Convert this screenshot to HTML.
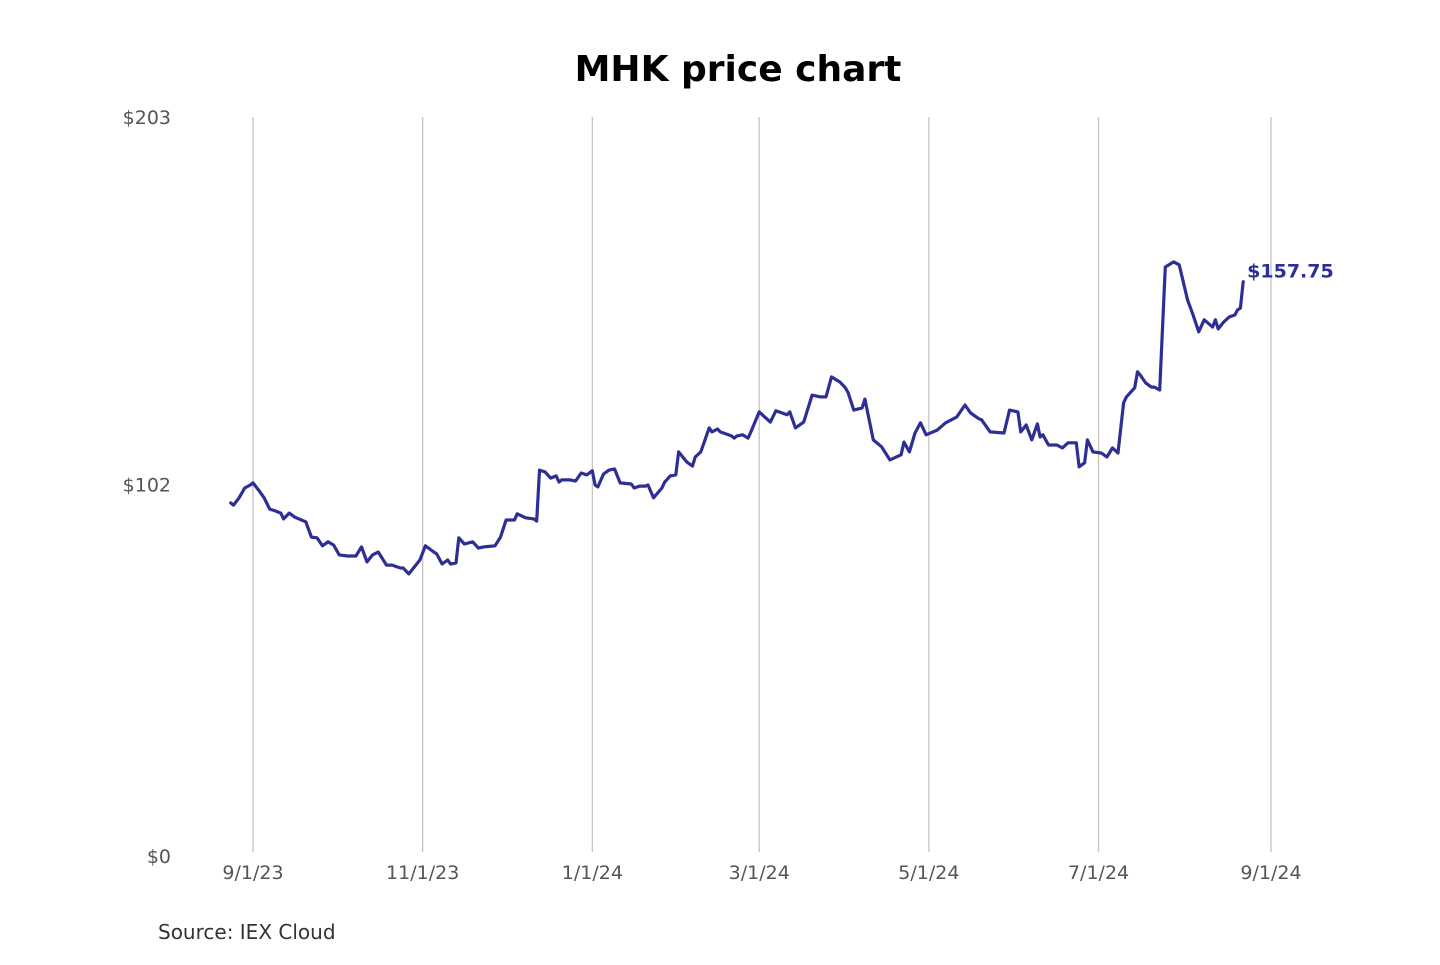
<!DOCTYPE html>
<html><head><meta charset="utf-8"><style>
html,body{margin:0;padding:0;background:#fff;}
body{width:1440px;height:960px;overflow:hidden;font-family:"Liberation Sans","DejaVu Sans",sans-serif;}
</style></head><body>
<svg id="chart" width="1440" height="960" xmlns="http://www.w3.org/2000/svg" font-family="'DejaVu Sans','Liberation Sans',sans-serif">
<text x="738" y="81" text-anchor="middle" font-size="36" font-weight="bold" fill="#000">MHK price chart</text>
<g id="grid"></g><g id="yaxis"></g><g id="xaxis"></g><g id="series"></g>
<text x="158" y="939" font-size="20" fill="#333">Source: IEX Cloud</text>
</svg>
<script>
const xTickLabels=["9/1/23","11/1/23","1/1/24","3/1/24","5/1/24","7/1/24","9/1/24"];
const xTickDays=[0,61,122,182,243,304,366];
const yTickValues=[0,102,203];
const yTickLabels=["$0","$102","$203"];
const days=[-8,-7,-5,-3,-1,0,2,4,6,8,10,11,13,15,19,21,23,25,27,29,31,34,37,39,41,43,45,48,50,53,54,56,58,60,62,65,66,68,70,71,73,74,76,79,81,83,87,89,91,94,95,98,101,102,103,105,107,109,110,111,114,116,117,118,120,122,123,124,126,128,130,132,136,137,139,141,142,144,147,148,150,152,153,156,158,159,161,164,165,167,168,172,173,174,176,178,179,182,186,188,192,193,195,198,201,204,206,208,211,213,214,216,219,220,223,226,229,233,234,236,238,240,242,246,249,253,256,258,261,262,265,270,272,275,276,278,280,282,283,284,286,289,291,293,296,297,299,300,302,305,307,309,311,313,314,317,318,319,321,323,324,326,328,331,333,336,338,340,342,345,346,347,349,351,353,354,355,356];
const prices=[97.0,96.4,98.4,101.1,101.9,102.5,100.5,98.4,95.3,94.8,94.2,92.6,94.2,93.1,91.8,87.6,87.4,85.2,86.3,85.4,82.7,82.4,82.4,84.9,80.8,82.7,83.5,79.9,79.9,79.1,79.1,77.5,79.4,81.3,85.2,83.5,83.0,80.2,81.3,80.2,80.5,87.4,85.7,86.3,84.6,84.9,85.2,87.6,92.3,92.3,94.0,92.9,92.6,92.0,106.0,105.5,103.8,104.4,102.7,103.3,103.3,103.0,104.1,105.2,104.7,105.8,101.9,101.4,104.9,106.0,106.3,102.5,102.2,101.1,101.6,101.6,101.9,98.4,101.1,102.7,104.4,104.7,111.0,108.2,107.1,109.6,111.0,117.6,116.5,117.3,116.5,115.4,114.8,115.4,115.7,114.8,116.5,122.0,119.2,122.3,121.2,122.0,117.6,119.2,126.6,126.1,126.1,131.6,130.2,128.6,127.2,122.5,123.1,125.5,114.3,112.4,108.8,110.2,113.7,111.0,116.2,119.0,115.7,117.0,119.0,120.6,123.9,121.7,120.1,119.8,116.5,116.2,122.5,122.0,116.5,118.4,114.3,118.7,115.1,115.7,112.9,112.9,112.1,113.5,113.5,106.9,108.0,114.3,111.0,110.7,109.6,112.1,110.7,124.5,126.1,128.6,133.0,132.1,129.9,128.8,128.8,128.0,161.8,163.2,162.4,152.7,148.6,144.0,147.3,145.3,147.3,144.8,146.7,148.1,148.6,150.0,150.5,157.75];
const lastLabel="$157.75";
const NS="http://www.w3.org/2000/svg";
const x0=253,pxPerDay=(1271-253)/366,yBase=856,yTop=117,yMax=203;
const xs=d=>x0+d*pxPerDay;
const ys=v=>yBase-(v/yMax)*(yBase-yTop);
function mk(tag,attrs,parent){const e=document.createElementNS(NS,tag);for(const k in attrs)e.setAttribute(k,attrs[k]);parent.appendChild(e);return e;}
const grid=document.getElementById('grid'),xa=document.getElementById('xaxis'),ya=document.getElementById('yaxis'),ser=document.getElementById('series');
xTickDays.forEach((d,i)=>{
  const l=mk('line',{x1:xs(d),x2:xs(d),y1:yTop,y2:852,stroke:'#c4c4c4','stroke-width':1.3},grid);
  
  
  const t=mk('text',{x:xs(d),y:879,'text-anchor':'middle','font-size':19,fill:'#555'},xa);
  
  
  t.textContent=xTickLabels[i];
});
yTickValues.forEach((v,i)=>{
  const t=mk('text',{x:171,y:ys(v)+7,'text-anchor':'end','font-size':19,fill:'#555'},ya);
  
  
  t.textContent=yTickLabels[i];
});
const pts=days.map((d,i)=>xs(d).toFixed(1)+','+ys(prices[i]).toFixed(1)).join(' ');
const pl=mk('polyline',{points:pts,fill:'none',stroke:'#2e2f94','stroke-width':3.2,'stroke-linejoin':'round','stroke-linecap':'round'},ser);


const n=days.length-1;
const lt=mk('text',{x:xs(days[n])+4,y:ys(prices[n])-4,'font-size':19,'font-weight':'bold',fill:'#2e2f94'},ser);


lt.textContent=lastLabel;
</script>
</body></html>
